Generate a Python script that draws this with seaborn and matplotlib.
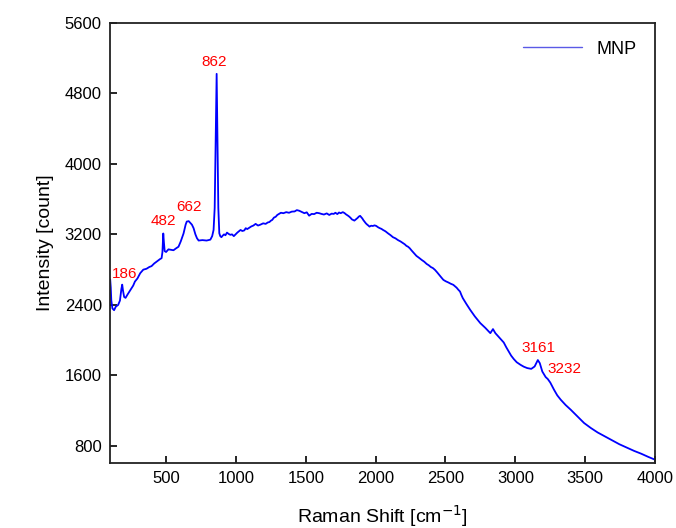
import matplotlib
matplotlib.use("Agg")
import matplotlib.pyplot as plt
import pandas as pd
import seaborn as sns

# Raman spectrum
raman_shift = [
    100, 104, 108, 116, 128, 140, 157, 170, 180, 186, 192, 200, 210, 225, 245,
    265, 277, 295, 315, 337, 360, 380, 396, 415, 440, 457, 468, 474, 480, 485,
    490, 500, 517, 535, 553, 570, 589, 605, 625, 640, 648, 662, 673, 685, 697,
    710, 721, 733, 760, 790, 817, 830, 840, 848, 855, 862, 868, 874,
    881, 888, 896, 905, 915, 925, 936, 948, 960, 972, 985, 998, 1010, 1022,
    1033, 1046, 1060, 1070, 1081, 1095, 1110, 1125, 1141, 1158, 1175, 1195,
    1213, 1228, 1240, 1250, 1260, 1272, 1285, 1296, 1308, 1322, 1340, 1360,
    1380, 1400, 1420, 1436, 1453, 1470, 1490, 1507, 1524, 1542, 1560, 1578,
    1596, 1612, 1630, 1650, 1668, 1685, 1700, 1712, 1726, 1738, 1750, 1765,
    1777, 1787, 1795, 1804, 1812, 1822, 1830, 1840, 1848, 1860, 1870, 1880,
    1889, 1897, 1905, 1912, 1920, 1930, 1940, 1948, 1956, 1968, 1980, 1992,
    2004, 2018, 2030, 2042, 2052, 2070, 2090, 2106, 2124, 2142, 2160, 2178,
    2196, 2208, 2220, 2232, 2244, 2257, 2270, 2280, 2292, 2310, 2330, 2348,
    2365, 2380, 2395, 2410, 2425, 2440, 2455, 2470, 2485, 2502, 2520, 2538,
    2556, 2568, 2580, 2592, 2604, 2614, 2624,
    2650, 2677, 2710, 2749, 2785, 2821, 2840, 2857, 2885, 2917,
    2935, 2953, 2970, 2989, 3010, 3037, 3060, 3085, 3114, 3138, 3161, 3175,
    3193, 3217, 3232, 3250, 3277, 3300, 3325, 3360, 3397, 3445, 3492, 3540,
    3589, 3640, 3685, 3745, 3805, 3850, 3901, 3950, 4000,
]
intensity = [
    2690, 2600, 2450, 2360, 2340, 2380, 2400, 2450, 2580, 2630, 2560, 2490,
    2480, 2520, 2570, 2620, 2665, 2700, 2760, 2800, 2810, 2830, 2840, 2870,
    2900, 2920, 2930, 3000, 3210, 3100, 3010, 3000, 3030, 3025, 3020, 3040,
    3060, 3120, 3210, 3310, 3345, 3350, 3330, 3310, 3270, 3200, 3157, 3130,
    3135, 3130, 3140, 3180, 3250, 3500, 4300, 5020, 4300, 3500,
    3213, 3180, 3168, 3185, 3200, 3190, 3220, 3205, 3195, 3200, 3180, 3200,
    3220, 3235, 3250, 3238, 3245, 3270, 3260, 3275, 3290, 3300, 3319, 3300,
    3310, 3325, 3319, 3335, 3340, 3355, 3364, 3390, 3400, 3420, 3432, 3445,
    3440, 3452, 3445, 3458, 3460, 3475, 3468, 3455, 3440, 3450, 3412, 3432,
    3430, 3445, 3440, 3432, 3425, 3438, 3420, 3435, 3432, 3445, 3430, 3448,
    3440, 3452, 3442, 3428, 3420, 3410, 3400, 3385, 3370, 3362, 3356, 3372,
    3385, 3402, 3410, 3395, 3380, 3362, 3345, 3325, 3310, 3300, 3288, 3298,
    3295, 3302, 3296, 3280, 3270, 3262, 3251, 3235, 3210, 3192, 3168, 3155,
    3135, 3120, 3100, 3088, 3070, 3060, 3043, 3018, 2995, 2978, 2956, 2935,
    2910, 2890, 2865, 2850, 2830, 2818, 2797, 2770, 2740, 2712, 2684, 2668,
    2655, 2640, 2628, 2612, 2595, 2572, 2552, 2512, 2477,
    2410, 2344, 2270, 2194, 2140, 2080, 2126, 2080, 2030, 1974,
    1920, 1872, 1825, 1786, 1750, 1721, 1700, 1684, 1675, 1702, 1775, 1740,
    1645, 1582, 1560, 1520, 1438, 1375, 1325, 1265, 1211, 1135, 1061, 1005,
    954, 910, 871, 820, 777, 745, 713, 678, 645,
]

peak_labels = ["186", "482", "662", "862", "3161", "3232"]
peak_label_x = [200, 480, 664, 842, 3163, 3351]
peak_label_y = [2752, 3349, 3511, 5149, 1910, 1674]

x_ticks = [500, 1000, 1500, 2000, 2500, 3000, 3500, 4000]
y_ticks = [800, 1600, 2400, 3200, 4000, 4800, 5600]

sns.set_theme(style="ticks")
plt.rcParams["font.family"] = ["Liberation Sans", "DejaVu Sans"]
plt.rcParams["text.color"] = "black"
plt.rcParams["axes.labelcolor"] = "black"

df = pd.DataFrame({"shift": raman_shift, "intensity": intensity})

fig = plt.figure(figsize=(6.76, 5.28), dpi=100)
ax = fig.add_axes([0.163, 0.123, 0.806, 0.834])

sns.lineplot(data=df, x="shift", y="intensity", color="#0000ff",
             linewidth=1.3, label="MNP", ax=ax)

for text, px, py in zip(peak_labels, peak_label_x, peak_label_y):
    ax.text(px, py, text, color="#ff0000", fontsize=11, ha="center", va="center")

ax.set_xlim(100, 4000)
ax.set_ylim(607, 5600)
ax.set_xticks(x_ticks)
ax.set_yticks(y_ticks)
ax.tick_params(direction="in", length=5, width=1.2, labelsize=12,
               top=False, right=False, colors="black", pad=6)
for spine in ax.spines.values():
    spine.set_visible(True)
    spine.set_linewidth(1.3)
    spine.set_color("#222222")

ax.set_xlabel("Raman Shift [cm$^{-1}$]", fontsize=14, labelpad=12)
ax.set_ylabel("Intensity [count]", fontsize=14, labelpad=8)

leg = ax.legend(loc="upper right", frameon=False, fontsize=13,
                handlelength=3.3, borderaxespad=0.6)
for line in leg.get_lines():
    line.set_color("#5a5ae6")
    line.set_linewidth(1.0)
for t in leg.get_texts():
    t.set_color("black")

fig.savefig("out.png", dpi=100)
